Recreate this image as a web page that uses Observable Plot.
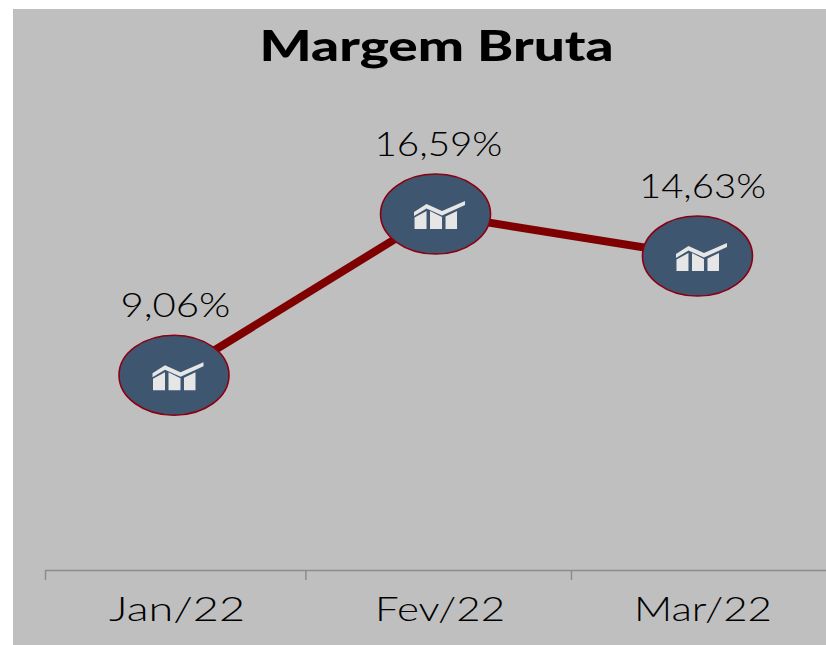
<!DOCTYPE html>
<html><head><meta charset="utf-8">
<script src="https://cdn.jsdelivr.net/npm/d3@7"></script>
<script src="https://cdn.jsdelivr.net/npm/@observablehq/plot@0.6"></script>
<style>html,body{margin:0;padding:0;background:#fff;overflow:hidden}svg{display:block}</style>
</head><body><div id="chart"></div>
<script>
const chartTitle = "Margem Bruta";
const months = ["Jan/22", "Fev/22", "Mar/22"];
const marginPct = [9.06, 16.59, 14.63];
const markerSlot = [-0.0114, 0.983, 1.979];
const valueSlot = [-0.006, 0.994, 1.998];
const monthSlot = [0, 1, 2];
const edgeTicks = [-0.5, 0.49, 1.5];

const data = months.map((m, i) => ({
  month: m, value: marginPct[i], slot: markerSlot[i], labelSlot: valueSlot[i],
  label: marginPct[i].toFixed(2).replace(".", ",") + "%"
}));

const K = 0.5522848;
const ellipse = {draw(c) {
  const a = 55, b = 40;
  c.moveTo(a, 0);
  c.bezierCurveTo(a, b * K, a * K, b, 0, b);
  c.bezierCurveTo(-a * K, b, -a, b * K, -a, 0);
  c.bezierCurveTo(-a, -b * K, -a * K, -b, 0, -b);
  c.bezierCurveTo(a * K, -b, a, -b * K, a, 0);
  c.closePath();
}};
const glyph = {draw(c) {
  const poly = p => { c.moveTo(p[0][0], p[0][1]); p.slice(1).forEach(q => c.lineTo(q[0], q[1])); c.closePath(); };
  poly([[-21.5,-2],[-9,-10],[6.5,-3],[29.5,-13],[29.5,-9],[6.5,1.5],[-9,-5.5],[-21.5,2]]);
  poly([[-21,3.5],[-9,-3],[-9,15],[-21,15]]);
  poly([[-5.5,-3],[6.5,3],[6.5,15],[-5.5,15]]);
  poly([[10,2.5],[21.5,-3],[21.5,15],[10,15]]);
}};

const font = "Lato, 'Noto Sans', sans-serif";
const plot = Plot.plot({
  width: 826, height: 645,
  marginLeft: 0, marginRight: 0, marginTop: 0, marginBottom: 75,
  style: {background: "linear-gradient(#bfbfbf,#bfbfbf) 13px 9px/813px 636px no-repeat", fontFamily: font},
  x: {type: "linear", domain: [-0.5, 2.5], range: [45, 834], axis: null},
  y: {domain: [0, 25], range: [568.6, 33.6], axis: null},
  marks: [
    Plot.ruleY([0], {x1: -0.5, x2: 2.5, dy: 1.4, stroke: "#8c8c8c", strokeWidth: 1.5}),
    Plot.axisX({anchor: "bottom", ticks: edgeTicks, tickSize: 10, tickFormat: () => "", stroke: "#8c8c8c", strokeWidth: 1.5, label: null}),
    Plot.axisX({anchor: "bottom", ticks: monthSlot, tickSize: 0, tickPadding: 27, tickFormat: i => months[i], fontSize: 33, fontWeight: 300, fill: "#000", label: null, className: "xlab"}),
    Plot.line(data, {x: "slot", y: "value", stroke: "#7f0000", strokeWidth: 8}),
    Plot.dot(data, {x: "slot", y: "value", symbol: ellipse, fill: "#3f5670", stroke: "#8b0012", strokeWidth: 1.6}),
    Plot.dot(data, {x: "slot", y: "value", symbol: glyph, fill: "#e6e6e6", stroke: "none"}),
    Plot.text(data, {x: "labelSlot", y: "value", text: "label", dy: -69, fontSize: 33, fontWeight: 300, fill: "#000", className: "vlab"}),
    Plot.text([chartTitle], {x: () => 1, frameAnchor: "top", dy: 31, dx: -3.5, fontSize: 42, fontWeight: 900, fill: "#000", className: "ttl"})
  ]
});
document.getElementById("chart").append(plot);

const fit = (sel, w) => d3.select(plot).selectAll(sel).each(function (d, i) {
  d3.select(this).attr("textLength", w[i]).attr("lengthAdjust", "spacingAndGlyphs");
});
fit(".ttl text", [354]);
fit(".vlab text", [110, 128, 127]);
fit(".xlab text", [136, 130, 138]);
</script></body></html>
